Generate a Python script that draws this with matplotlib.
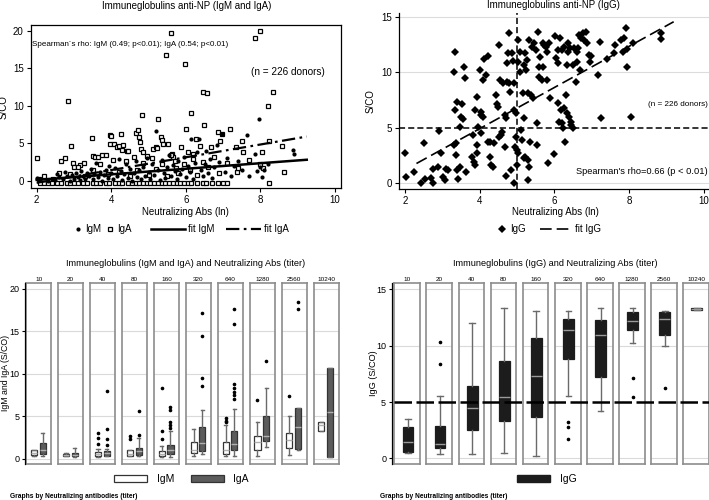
import numpy as np
import matplotlib.pyplot as plt
from matplotlib.lines import Line2D
from matplotlib.patches import Patch

plt.rcParams['font.family'] = ['Liberation Sans', 'DejaVu Sans']

# ---- scatter data ----
igm_pts = [(2.0, 0.4), (2.1, 0.2), (2.3, 0.0), (2.4, 0.3), (2.5, 0.1), (2.55, 0.9), (2.6, 0.5), (2.7, 0.2),
           (2.75, 1.2), (2.8, 0.6), (2.9, 0.0), (2.95, 0.8), (3.0, 0.3), (3.05, 1.0), (3.1, 0.5), (3.15, 0.1),
           (3.2, 1.3), (3.25, 0.7), (3.3, 0.2), (3.35, 1.1), (3.4, 0.6), (3.45, 1.6), (3.5, 0.3), (3.55, 0.9),
           (3.6, 2.4), (3.65, 0.5), (3.7, 1.2), (3.75, 0.0), (3.8, 0.8), (3.85, 1.5), (3.9, 0.4), (3.95, 2.0),
           (4.0, 1.1), (4.05, 0.2), (4.1, 1.7), (4.15, 0.6), (4.2, 2.9), (4.25, 1.3), (4.3, 0.1), (4.35, 0.9),
           (4.4, 2.2), (4.45, 0.4), (4.5, 1.6), (4.55, 0.0), (4.6, 1.0), (4.65, 2.6), (4.7, 0.5), (4.75, 1.4),
           (4.8, 0.2), (4.85, 1.9), (4.9, 0.7), (4.95, 3.1), (5.0, 1.2), (5.05, 0.3), (5.1, 2.3), (5.15, 0.8),
           (5.2, 6.65), (5.25, 1.5), (5.3, 0.1), (5.35, 2.8), (5.4, 1.0), (5.45, 0.4), (5.5, 1.8), (5.55, 3.5),
           (5.6, 0.6), (5.65, 2.1), (5.7, 1.3), (5.75, 0.2), (5.8, 2.6), (5.85, 0.9), (5.9, 1.6), (5.95, 3.2),
           (6.0, 0.5), (6.05, 2.0), (6.1, 1.2), (6.15, 5.55), (6.2, 0.3), (6.25, 2.4), (6.3, 3.8), (6.36, 5.55),
           (6.4, 1.5), (6.45, 0.7), (6.5, 2.2), (6.55, 4.0), (6.6, 1.0), (6.65, 2.9), (6.7, 0.4), (6.75, 1.8),
           (6.83, 4.8), (6.9, 2.5), (6.98, 6.3), (7.05, 1.2), (7.1, 3.0), (7.2, 0.6), (7.3, 2.0), (7.4, 2.6),
           (7.5, 1.4), (7.63, 6.1), (7.7, 0.7), (7.85, 3.6), (7.9, 1.3), (7.97, 8.2), (8.0, 1.9), (8.05, 0.5),
           (8.1, 1.5), (8.2, 2.3), (8.88, 4.1), (8.9, 3.6)]

iga_pts = [(2.0, 3.0), (2.07, 0.27), (2.83, 10.7), (2.65, 2.6), (2.76, 3.0), (2.92, 4.65), (2.97, 2.45),
           (3.0, 1.9), (3.16, 2.1), (3.27, 2.45), (3.47, 5.7), (3.5, 3.3), (3.56, 3.2), (3.65, 3.15),
           (3.74, 3.45), (3.86, 3.4), (3.97, 6.1), (4.0, 6.0), (3.97, 4.9), (4.08, 4.9), (4.14, 4.55),
           (4.2, 4.65), (4.26, 6.2), (4.28, 4.1), (4.32, 4.75), (4.41, 4.0), (4.46, 4.0), (4.66, 6.4),
           (4.71, 6.8), (4.75, 5.9), (4.77, 5.2), (4.82, 8.8), (4.8, 4.3), (4.86, 3.9), (4.95, 3.3),
           (5.11, 4.2), (5.2, 4.55), (5.25, 8.3), (5.22, 4.4), (5.33, 5.8), (5.36, 5.45), (5.38, 4.9),
           (5.47, 16.8), (5.51, 4.9), (5.6, 19.75), (5.62, 3.6), (5.65, 3.25), (5.74, 1.7), (5.87, 4.55),
           (5.98, 15.5), (5.99, 6.9), (6.07, 3.9), (6.14, 9.0), (6.2, 2.9), (6.27, 5.55), (6.38, 4.65),
           (6.45, 11.9), (6.48, 7.5), (6.56, 11.7), (6.67, 4.55), (6.87, 6.55), (6.92, 5.25), (6.96, 6.2),
           (7.17, 6.85), (7.33, 4.55), (7.38, 1.25), (7.54, 3.9), (7.5, 5.3), (7.85, 19.0), (7.99, 20.0),
           (8.03, 3.9), (8.08, 1.7), (8.19, 10.0), (8.22, 5.25), (8.24, -0.3), (8.33, 11.8), (8.57, 4.7),
           (8.63, 1.15),
           (2.2, 0.6), (2.45, 0.2), (2.6, 1.1), (2.9, 0.9), (3.1, 1.8), (3.3, 0.6), (3.5, 1.4), (3.7, 2.2),
           (3.9, 0.9), (4.05, 2.8), (4.2, 1.2), (4.4, 2.6), (4.5, 0.7), (4.6, 3.2), (4.7, 1.5), (4.85, 2.4),
           (5.0, 0.8), (5.1, 3.0), (5.2, 1.6), (5.35, 2.2), (5.5, 0.6), (5.6, 3.4), (5.7, 2.7), (5.8, 1.1),
           (5.95, 2.3), (6.1, 1.4), (6.2, 3.6), (6.3, 0.8), (6.45, 2.5), (6.6, 1.9), (6.75, 3.2), (6.9, 1.0),
           (7.1, 2.4), (7.4, 1.7), (7.7, 2.8), (8.0, 2.2)]

# row of IgA values sitting just below zero
iga_floor_x = [2.1, 2.2, 2.3, 2.4, 2.55, 2.65, 2.8, 2.9, 3.0, 3.1, 3.25, 3.35, 3.5, 3.6, 3.7, 3.85, 3.95,
               4.1, 4.2, 4.3, 4.45, 4.55, 4.65, 4.75, 4.85, 4.95, 5.05, 5.15, 5.25, 5.35, 5.45, 5.55,
               5.65, 5.75, 5.85, 5.95, 6.05, 6.15, 6.3, 6.45, 6.55, 6.7, 6.85, 7.0, 7.1]
iga_floor_y = -0.3

igg_pts = [(2.0, 2.76), (2.04, 0.54), (2.25, 1.0), (2.44, 0.0), (2.5, 3.66), (2.55, 0.36), (2.71, 0.45),
           (2.74, 0.0), (2.74, 1.26), (2.89, 1.5), (2.91, 4.71), (2.96, 2.76), (3.02, 0.6), (3.07, 0.3),
           (3.11, 1.26), (3.16, 1.2), (3.31, 3.5), (3.33, 11.85), (3.32, 10.05), (3.33, 6.6), (3.36, 2.52),
           (3.38, 3.6), (3.39, 7.35), (3.4, 1.2), (3.42, 0.36), (3.47, 1.5), (3.49, 6.0), (3.54, 7.11),
           (3.56, 5.8), (3.58, 10.44), (3.6, 9.51), (3.47, 5.1), (3.64, 1.0), (3.8, 2.4), (3.82, 4.35),
           (3.85, 1.95), (3.88, 6.6), (3.88, 1.62), (3.94, 7.8), (3.94, 3.45), (3.94, 2.7), (3.97, 5.1),
           (4.0, 10.2), (4.03, 6.45), (4.04, 6.15), (4.04, 4.5), (4.09, 6.0), (4.09, 9.3), (4.13, 11.16),
           (4.18, 9.75), (4.22, 11.46), (4.22, 3.75), (4.27, 2.4), (4.29, 3.75), (4.31, 1.65), (4.36, 1.5),
           (4.4, 3.6), (4.44, 7.95), (4.47, 7.14), (4.49, 6.9), (4.51, 4.2), (4.53, 12.45), (4.54, 9.3),
           (4.58, 4.35), (4.6, 4.65), (4.64, 9.0), (4.67, 6.15), (4.69, 3.3), (4.71, 5.85), (4.71, 0.69),
           (4.73, 9.15), (4.73, 10.8), (4.76, 11.7), (4.78, 13.5), (4.8, 9.0), (4.82, 8.2), (4.84, 1.2),
           (4.86, 11.7), (4.89, 11.04), (4.91, 9.0), (4.91, 6.6), (4.93, 0.0), (4.96, 3.3), (4.98, 4.2),
           (4.98, 6.3), (5.0, 3.0), (5.01, 1.65), (5.02, 2.7), (5.02, 10.95), (5.04, 12.9), (5.07, 10.05),
           (5.09, 11.85), (5.11, 4.8), (5.13, 3.9), (5.16, 8.1), (5.18, 2.25), (5.18, 5.9), (5.2, 10.65),
           (5.22, 2.4), (5.23, 11.7), (5.24, 10.2), (5.27, 11.1), (5.29, 8.1), (5.29, 0.3), (5.31, 2.1),
           (5.33, 1.5), (5.33, 12.9), (5.36, 3.75), (5.38, 7.95), (5.4, 12.3), (5.42, 7.65), (5.47, 12.6),
           (5.51, 12.0), (5.53, 5.46), (5.53, 3.42), (5.56, 13.65), (5.58, 10.5), (5.6, 9.6), (5.62, 11.4),
           (5.67, 9.3), (5.69, 10.5), (5.71, 12.6), (5.73, 12.45), (5.78, 12.3), (5.8, 11.85), (5.82, 9.3),
           (5.84, 1.8), (5.87, 12.6), (5.89, 7.65), (5.99, 2.64), (6.02, 13.26), (6.04, 11.25), (6.09, 7.26),
           (6.11, 10.8), (6.11, 12.0), (6.13, 5.55), (6.16, 13.05), (6.18, 6.6), (6.2, 5.4), (6.22, 12.0),
           (6.24, 4.95), (6.27, 12.3), (6.27, 6.75), (6.29, 3.75), (6.31, 7.95), (6.33, 10.65), (6.34, 6.3),
           (6.36, 12.6), (6.38, 11.85), (6.4, 6.0), (6.43, 12.15), (6.44, 5.55), (6.46, 5.25), (6.49, 4.95),
           (6.51, 10.65), (6.53, 12.15), (6.58, 9.15), (6.6, 10.95), (6.62, 11.85), (6.64, 12.15),
           (6.67, 13.35), (6.69, 10.2), (6.71, 13.05), (6.76, 13.5), (6.8, 12.9), (6.84, 13.65), (6.89, 12.6),
           (6.93, 11.55), (6.96, 10.95), (6.98, 11.46), (7.16, 9.75), (7.23, 12.69), (7.24, 5.85),
           (7.42, 11.16), (7.6, 11.7), (7.64, 12.45), (7.78, 12.9), (7.84, 11.85), (7.87, 13.05),
           (7.91, 13.95), (7.94, 10.5), (7.94, 12.06), (8.06, 5.94), (8.11, 12.6), (8.86, 13.56), (8.86, 12.96)]

# fitted lines: slope, intercept, x range
fit_igm = (0.37, -0.60, 2.0, 9.24)
fit_iga = (0.85, -1.95, 2.0, 9.24)
fit_igg = (1.85, -2.48, 2.31, 9.2)

# ---- box plot data by titer ----
titers = ['10', '20', '40', '80', '160', '320', '640', '1280', '2560', '10240']

igm_q1 = [0.47, 0.35, 0.35, 0.35, 0.3, 0.7, 0.6, 1.1, 1.35, 3.3]
igm_med = [0.7, 0.45, 0.55, 0.6, 0.6, 1.1, 1.0, 2.0, 2.2, 4.0]
igm_q3 = [1.0, 0.6, 0.85, 1.0, 0.9, 2.0, 2.0, 2.7, 3.0, 4.3]
igm_lo = [0.4, 0.3, 0.25, 0.3, 0.2, 0.35, 0.3, 0.4, 0.5, 3.3]
igm_hi = [1.1, 0.65, 1.15, 1.0, 1.5, 3.5, 4.0, 4.3, 5.1, 4.3]
igm_out = [[], [], [3.1, 2.45, 1.8], [2.7, 2.35], [8.3, 3.25, 2.4], [], [4.8, 4.5, 4.3], [6.9], [7.4], []]

iga_q1 = [0.6, 0.35, 0.4, 0.5, 0.55, 0.9, 1.0, 2.1, 1.2, 0.2]
iga_med = [1.0, 0.5, 0.65, 0.9, 1.0, 1.9, 1.8, 2.7, 3.8, 5.5]
iga_q3 = [1.9, 0.75, 0.9, 1.25, 1.6, 3.8, 3.3, 5.0, 6.0, 10.7]
iga_lo = [0.4, 0.25, 0.3, 0.4, 0.2, 0.6, 0.4, 1.4, 1.1, 0.2]
iga_hi = [3.0, 1.3, 1.2, 2.45, 3.3, 5.8, 5.9, 8.3, 6.0, 10.7]
iga_out = [[], [], [8.0, 3.5, 2.35, 1.7], [5.6, 2.8], [6.1, 5.8, 4.3, 4.0, 3.7],
           [17.2, 14.5, 9.5, 8.6], [17.6, 15.9, 8.8, 8.3, 7.9, 7.5, 7.0], [11.5], [18.5, 17.7], []]

igg_q1 = [0.6, 0.95, 2.5, 3.3, 3.7, 8.8, 7.2, 11.4, 10.9, 13.2]
igg_med = [1.45, 1.25, 4.5, 5.4, 7.3, 11.4, 10.9, 12.2, 12.4, 13.25]
igg_q3 = [2.75, 2.9, 6.4, 8.6, 10.7, 12.4, 12.3, 13.0, 13.0, 13.3]
igg_lo = [0.45, 0.35, 0.35, 0.5, 0.2, 5.5, 4.2, 10.2, 10.0, 13.2]
igg_hi = [3.5, 5.5, 12.0, 13.3, 13.1, 13.1, 13.3, 13.3, 13.1, 13.3]
igg_out = [[], [10.3, 8.4], [], [], [], [3.2, 2.8, 1.7], [], [7.1, 5.4], [6.2], []]

W, H = 709, 500
fig = plt.figure(figsize=(W / 100, H / 100), dpi=100)


def px_axes(l, t, r, b):
    return fig.add_axes([l / W, 1 - b / H, (r - l) / W, (b - t) / H])


def stats(q1, med, q3, lo, hi, out):
    return [dict(q1=a, med=b, q3=c, whislo=d, whishi=e, fliers=f)
            for a, b, c, d, e, f in zip(q1, med, q3, lo, hi, out)]


def row_legend(handles, labels, x, y, hl, tp, cs, fs=7):
    # one row of legend keys, left edge anchored at pixel x
    leg = fig.legend(handles=handles, labels=labels, loc='center left', bbox_to_anchor=(x / W, 1 - y / H),
                     ncol=len(handles), frameon=False, fontsize=fs, handlelength=hl, handletextpad=tp,
                     columnspacing=cs, borderpad=0, borderaxespad=0)
    return leg


TICK = dict(labelsize=7, length=3, width=0.8, pad=2)

# ================= top left: IgM / IgA scatter =================
ax1 = px_axes(30.7, 25, 340.7, 188.3)
ax1.set_xlim(1.84, 10.15)
ax1.set_ylim(-0.98, 20.75)
mx, my = zip(*igm_pts)
ax1.plot(mx, my, 'o', ms=3, color='black', mew=0, zorder=3)
ax_, ay_ = zip(*iga_pts)
ax1.plot(list(ax_) + iga_floor_x, list(ay_) + [iga_floor_y] * len(iga_floor_x), 's', ms=3.2,
         mfc='white', mec='black', mew=0.9, zorder=2)
xs = np.array(fit_igm[2:])
ax1.plot(xs, fit_igm[0] * xs + fit_igm[1], color='black', lw=1.8, zorder=4)
xs = np.array(fit_iga[2:])
ax1.plot(xs, fit_iga[0] * xs + fit_iga[1], color='black', lw=1.6, dashes=(6, 2, 1.2, 2), zorder=4)
ax1.set_xticks([2, 4, 6, 8, 10])
ax1.set_yticks([0, 5, 10, 15, 20])
ax1.tick_params(**TICK)
for s in ax1.spines.values():
    s.set_linewidth(0.9)
ax1.set_xlabel('Neutralizing Abs (ln)', fontsize=7, labelpad=1)
ax1.set_ylabel('S/CO', fontsize=7, labelpad=3)
ax1.text(32 / W, 1 - 44 / H, 'Spearman\u00b4s rho: IgM (0.49; p<0.01); IgA (0.54; p<0.01)',
         transform=fig.transFigure, fontsize=5.8, va='center')
ax1.text(251 / W, 1 - 72 / H, '(n = 226 donors)', transform=fig.transFigure, fontsize=7.2, va='center')
fig.text(187 / W, 1 - 6 / H, 'Immuneglobulins anti-NP (IgM and IgA)', ha='center', va='center', fontsize=7)
row_legend([Line2D([], [], marker='o', ls='none', ms=3, color='black', mew=0),
            Line2D([], [], marker='s', ls='none', ms=3.2, mfc='white', mec='black', mew=0.9)],
           ['IgM', 'IgA'], 74, 229, 0.8, 0.3, 0.6)
row_legend([Line2D([], [], color='black', lw=1.8),
            Line2D([], [], color='black', lw=1.6, dashes=(6, 2, 1.2, 2))],
           ['fit IgM', 'fit IgA'], 151, 229, 3.5, 0.35, 1.2)

# ================= top right: IgG scatter =================
ax2 = px_axes(399.3, 13.3, 711, 189)
ax2.set_xlim(1.85, 10.2)
ax2.set_ylim(-0.5, 15.3)
for y in [0, 10, 15]:
    ax2.axhline(y, color='#dcdcdc', lw=0.8, zorder=0)
gx, gy = zip(*igg_pts)
ax2.plot(gx, gy, 'D', ms=3.6, color='black', mew=0, zorder=3)
xs = np.array(fit_igg[2:])
ax2.plot(xs, fit_igg[0] * xs + fit_igg[1], color='black', lw=1.2, dashes=(7, 3), zorder=4)
ax2.axhline(5, color='black', lw=1.1, dashes=(4, 2), zorder=2)
ax2.axvline(5, color='black', lw=1.1, dashes=(4, 2), zorder=2)
ax2.spines['top'].set_visible(False)
ax2.spines['right'].set_visible(False)
for s in ax2.spines.values():
    s.set_linewidth(0.9)
ax2.set_xticks([2, 4, 6, 8, 10])
ax2.set_yticks([0, 5, 10, 15])
ax2.tick_params(**TICK)
ax2.set_xlabel('Neutralizing Abs (ln)', fontsize=7, labelpad=1)
ax2.set_ylabel('S/CO', fontsize=7, labelpad=4)
fig.text(708 / W, 1 - 105 / H, '(n = 226 donors)', ha='right', va='center', fontsize=5.9)
fig.text(708 / W, 1 - 172 / H, "Spearman's rho=0.66 (p < 0.01)", ha='right', va='center', fontsize=6.7)
fig.text(553 / W, 1 - 5 / H, 'Immuneglobulins anti-NP (IgG)', ha='center', va='center', fontsize=7)
row_legend([Line2D([], [], marker='D', ls='none', ms=3.6, color='black', mew=0)],
           ['IgG'], 498, 229, 0.9, 0.3, 0.6)
row_legend([Line2D([], [], color='black', lw=1.2, dashes=(7, 3))],
           ['fit IgG'], 540, 229, 3.3, 0.35, 1.2)

# ================= bottom panels =================
FRAME = '#8c8c8c'
GRID = '#dadada'
WH = dict(color='#6a6a6a', lw=1.0)


def panel_frame(ax, ylim, grid):
    ax.set_xlim(0, 1)
    ax.set_ylim(*ylim)
    for y in grid:
        ax.axhline(y, color=GRID, lw=0.8, zorder=0)
    ax.set_xticks([])
    ax.set_yticks([])
    for s in ax.spines.values():
        s.set_color(FRAME)
        s.set_linewidth(1.2)


def side_axis(l, t, b, ylim, ticks):
    a = px_axes(l, t, l + 0.5, b)
    a.set_ylim(*ylim)
    a.set_xticks([])
    a.set_yticks(ticks)
    a.tick_params(axis='y', labelsize=6.5, length=2.5, width=0.8, pad=1.5)
    for k in ['top', 'right', 'bottom']:
        a.spines[k].set_visible(False)
    a.spines['left'].set_linewidth(0.9)
    a.set_facecolor('none')
    return a


# ---- bottom left: IgM / IgA by titer ----
lim_ma = (-0.59, 20.67)
igm_st = stats(igm_q1, igm_med, igm_q3, igm_lo, igm_hi, igm_out)
iga_st = stats(iga_q1, iga_med, iga_q3, iga_lo, iga_hi, iga_out)
for i, t in enumerate(titers):
    l = 26 + 31.95 * i
    ax = px_axes(l, 283.3, l + 25.3, 464)
    panel_frame(ax, lim_ma, [0, 5, 10, 15, 20])
    ax.bxp([igm_st[i]], positions=[0.31], widths=0.24, patch_artist=True, capwidths=0.14,
           boxprops=dict(facecolor='white', edgecolor='#333333', lw=0.9),
           medianprops=dict(color='#b0b0b0', lw=1.0), whiskerprops=WH, capprops=WH,
           flierprops=dict(marker='o', ms=1.6, mfc='black', mec='black'))
    ax.bxp([iga_st[i]], positions=[0.66], widths=0.24, patch_artist=True, capwidths=0.14,
           boxprops=dict(facecolor='#5c5c5c', edgecolor='#333333', lw=0.9),
           medianprops=dict(color='#b0b0b0', lw=1.0), whiskerprops=WH, capprops=WH,
           flierprops=dict(marker='o', ms=1.6, mfc='black', mec='black'))
    ax.set_xticks([])
    ax.set_title(t, fontsize=4.6, pad=1.5)
side_axis(25, 283.3, 464, lim_ma, [0, 5, 10, 15, 20])
fig.text(5.5 / W, 1 - 373 / H, 'IgM and IgA (S/CO)', rotation=90, ha='center', va='center', fontsize=6.3)
fig.text(186 / W, 1 - 264 / H, 'Immuneglobulins (IgM and IgA) and Neutralizing Abs (titer)',
         ha='center', va='center', fontsize=6.6)
row_legend([Patch(facecolor='white', edgecolor='#333333', lw=0.9),
            Patch(facecolor='#5c5c5c', edgecolor='#333333', lw=0.9)],
           ['IgM', 'IgA'], 114, 479, 3.2, 0.9, 1.6, fs=7.5)
fig.text(10 / W, 1 - 497 / H, 'Graphs by Neutralizing antibodies (titer)', va='center',
         fontsize=4.8, weight='bold')

# ---- bottom right: IgG by titer ----
lim_g = (-0.5, 15.53)
igg_st = stats(igg_q1, igg_med, igg_q3, igg_lo, igg_hi, igg_out)
for i, t in enumerate(titers):
    l = 394.3 + 32.1 * i
    ax = px_axes(l, 283.3, l + 25.7, 464)
    panel_frame(ax, lim_g, [0, 10, 15])
    ax.bxp([igg_st[i]], positions=[0.53], widths=0.42, patch_artist=True, capwidths=0.22,
           boxprops=dict(facecolor='#1c1c1c', edgecolor='#1c1c1c', lw=0.9),
           medianprops=dict(color='#9a9a9a', lw=1.0), whiskerprops=WH, capprops=WH,
           flierprops=dict(marker='o', ms=1.6, mfc='black', mec='black'))
    ax.set_xticks([])
    ax.set_title(t, fontsize=4.6, pad=1.5)
side_axis(391.7, 283.3, 464, lim_g, [0, 5, 10, 15])
fig.text(373.5 / W, 1 - 373 / H, 'IgG (S/CO)', rotation=90, ha='center', va='center', fontsize=6.6)
ov = px_axes(394.3, 283.3, 709, 464)
ov.set_ylim(*lim_g)
ov.axhline(5, color='black', lw=1.8, dashes=(7, 1.8))
ov.axis('off')
fig.text(555 / W, 1 - 264 / H, 'Immuneglobulins (IgG) and Neutralizing Abs (titer)',
         ha='center', va='center', fontsize=6.6)
row_legend([Patch(facecolor='#1c1c1c', edgecolor='#1c1c1c')], ['IgG'], 517, 479, 3.2, 0.9, 1.6, fs=7.5)
fig.text(380 / W, 1 - 497 / H, 'Graphs by Neutralizing antibodies (titer)', va='center',
         fontsize=4.8, weight='bold')

fig.savefig('out.png', dpi=100)
